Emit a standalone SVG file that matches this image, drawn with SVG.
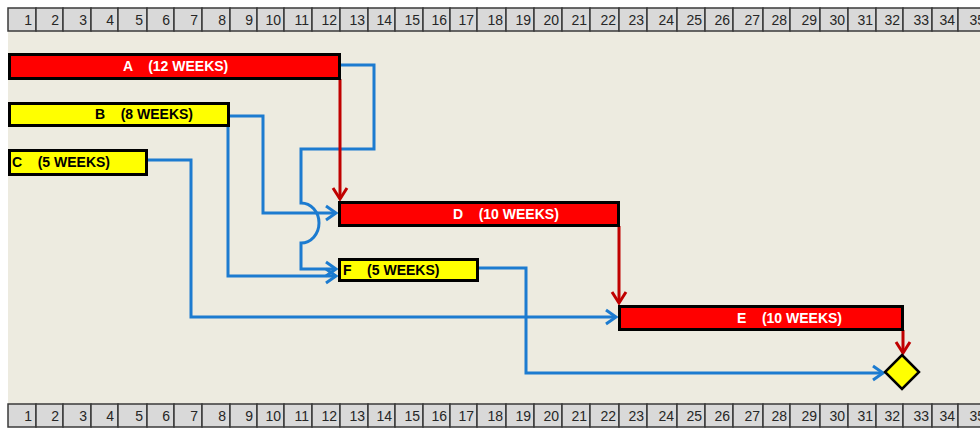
<svg xmlns="http://www.w3.org/2000/svg" width="980" height="430" viewBox="0 0 980 430">
<defs>
<style>
.cell{fill:#D9D9D9;stroke:#3A3A3A;stroke-width:1.5}
.num{font-family:"Liberation Sans",Arial,sans-serif;font-size:14px;fill:#262626;text-anchor:end}
.bar{stroke:#000;stroke-width:3}
.red{fill:#FF0000}
.yel{fill:#FFFF00}
.lbl{font-family:"Liberation Sans",Arial,sans-serif;font-size:14px;font-weight:bold}
.w{fill:#FFFFFF}
.k{fill:#000000}
.blue{fill:none;stroke:#1C7BD0;stroke-width:3;stroke-linejoin:miter}
.crit{fill:none;stroke:#C00000;stroke-width:3}
</style>
<marker id="ab" markerUnits="userSpaceOnUse" markerWidth="20" markerHeight="20" viewBox="-14 -10 16 20" refX="0" refY="0" orient="auto">
<path d="M-10,-7 L0,0 L-10,7" fill="none" stroke="#1C7BD0" stroke-width="3"/>
</marker>
<marker id="ar" markerUnits="userSpaceOnUse" markerWidth="20" markerHeight="20" viewBox="-14 -10 16 20" refX="0" refY="0" orient="auto">
<path d="M-11,-7 L0,0 L-11,7" fill="none" stroke="#C00000" stroke-width="3"/>
</marker>
</defs>
<rect x="0" y="0" width="980" height="430" fill="#FFFFFF"/>
<rect x="8" y="31" width="972" height="373" fill="#EDEBE0"/>

<g id="header-top">
<rect class="cell" x="8" y="8" width="28" height="23"/><text class="num" x="32" y="25">1</text>
<rect class="cell" x="36" y="8" width="27" height="23"/><text class="num" x="59" y="25">2</text>
<rect class="cell" x="63" y="8" width="28" height="23"/><text class="num" x="87" y="25">3</text>
<rect class="cell" x="91" y="8" width="27" height="23"/><text class="num" x="114" y="25">4</text>
<rect class="cell" x="118" y="8" width="29" height="23"/><text class="num" x="143" y="25">5</text>
<rect class="cell" x="147" y="8" width="27" height="23"/><text class="num" x="170" y="25">6</text>
<rect class="cell" x="174" y="8" width="28" height="23"/><text class="num" x="198" y="25">7</text>
<rect class="cell" x="202" y="8" width="28" height="23"/><text class="num" x="226" y="25">8</text>
<rect class="cell" x="230" y="8" width="27" height="23"/><text class="num" x="253" y="25">9</text>
<rect class="cell" x="257" y="8" width="27" height="23"/><text class="num" x="281" y="25">10</text>
<rect class="cell" x="284" y="8" width="28" height="23"/><text class="num" x="309" y="25">11</text>
<rect class="cell" x="312" y="8" width="28" height="23"/><text class="num" x="337" y="25">12</text>
<rect class="cell" x="340" y="8" width="28" height="23"/><text class="num" x="365" y="25">13</text>
<rect class="cell" x="368" y="8" width="27" height="23"/><text class="num" x="392" y="25">14</text>
<rect class="cell" x="395" y="8" width="28" height="23"/><text class="num" x="420" y="25">15</text>
<rect class="cell" x="423" y="8" width="27" height="23"/><text class="num" x="447" y="25">16</text>
<rect class="cell" x="450" y="8" width="27" height="23"/><text class="num" x="474" y="25">17</text>
<rect class="cell" x="477" y="8" width="29" height="23"/><text class="num" x="503" y="25">18</text>
<rect class="cell" x="506" y="8" width="28" height="23"/><text class="num" x="531" y="25">19</text>
<rect class="cell" x="534" y="8" width="28" height="23"/><text class="num" x="559" y="25">20</text>
<rect class="cell" x="562" y="8" width="28" height="23"/><text class="num" x="587" y="25">21</text>
<rect class="cell" x="590" y="8" width="29" height="23"/><text class="num" x="616" y="25">22</text>
<rect class="cell" x="619" y="8" width="28" height="23"/><text class="num" x="644" y="25">23</text>
<rect class="cell" x="647" y="8" width="30" height="23"/><text class="num" x="674" y="25">24</text>
<rect class="cell" x="677" y="8" width="28" height="23"/><text class="num" x="702" y="25">25</text>
<rect class="cell" x="705" y="8" width="28" height="23"/><text class="num" x="730" y="25">26</text>
<rect class="cell" x="733" y="8" width="30" height="23"/><text class="num" x="760" y="25">27</text>
<rect class="cell" x="763" y="8" width="27" height="23"/><text class="num" x="787" y="25">28</text>
<rect class="cell" x="790" y="8" width="30" height="23"/><text class="num" x="817" y="25">29</text>
<rect class="cell" x="820" y="8" width="28" height="23"/><text class="num" x="845" y="25">30</text>
<rect class="cell" x="848" y="8" width="28" height="23"/><text class="num" x="873" y="25">31</text>
<rect class="cell" x="876" y="8" width="27" height="23"/><text class="num" x="900" y="25">32</text>
<rect class="cell" x="903" y="8" width="29" height="23"/><text class="num" x="929" y="25">33</text>
<rect class="cell" x="932" y="8" width="26" height="23"/><text class="num" x="955" y="25">34</text>
<rect class="cell" x="958" y="8" width="30" height="23"/><text class="num" x="985" y="25">35</text>
</g>

<g id="header-bottom">
<rect class="cell" x="8" y="404" width="28" height="23"/><text class="num" x="32" y="421">1</text>
<rect class="cell" x="36" y="404" width="27" height="23"/><text class="num" x="59" y="421">2</text>
<rect class="cell" x="63" y="404" width="28" height="23"/><text class="num" x="87" y="421">3</text>
<rect class="cell" x="91" y="404" width="27" height="23"/><text class="num" x="114" y="421">4</text>
<rect class="cell" x="118" y="404" width="29" height="23"/><text class="num" x="143" y="421">5</text>
<rect class="cell" x="147" y="404" width="27" height="23"/><text class="num" x="170" y="421">6</text>
<rect class="cell" x="174" y="404" width="28" height="23"/><text class="num" x="198" y="421">7</text>
<rect class="cell" x="202" y="404" width="28" height="23"/><text class="num" x="226" y="421">8</text>
<rect class="cell" x="230" y="404" width="27" height="23"/><text class="num" x="253" y="421">9</text>
<rect class="cell" x="257" y="404" width="27" height="23"/><text class="num" x="281" y="421">10</text>
<rect class="cell" x="284" y="404" width="28" height="23"/><text class="num" x="309" y="421">11</text>
<rect class="cell" x="312" y="404" width="28" height="23"/><text class="num" x="337" y="421">12</text>
<rect class="cell" x="340" y="404" width="28" height="23"/><text class="num" x="365" y="421">13</text>
<rect class="cell" x="368" y="404" width="27" height="23"/><text class="num" x="392" y="421">14</text>
<rect class="cell" x="395" y="404" width="28" height="23"/><text class="num" x="420" y="421">15</text>
<rect class="cell" x="423" y="404" width="27" height="23"/><text class="num" x="447" y="421">16</text>
<rect class="cell" x="450" y="404" width="27" height="23"/><text class="num" x="474" y="421">17</text>
<rect class="cell" x="477" y="404" width="29" height="23"/><text class="num" x="503" y="421">18</text>
<rect class="cell" x="506" y="404" width="28" height="23"/><text class="num" x="531" y="421">19</text>
<rect class="cell" x="534" y="404" width="28" height="23"/><text class="num" x="559" y="421">20</text>
<rect class="cell" x="562" y="404" width="28" height="23"/><text class="num" x="587" y="421">21</text>
<rect class="cell" x="590" y="404" width="29" height="23"/><text class="num" x="616" y="421">22</text>
<rect class="cell" x="619" y="404" width="28" height="23"/><text class="num" x="644" y="421">23</text>
<rect class="cell" x="647" y="404" width="30" height="23"/><text class="num" x="674" y="421">24</text>
<rect class="cell" x="677" y="404" width="28" height="23"/><text class="num" x="702" y="421">25</text>
<rect class="cell" x="705" y="404" width="28" height="23"/><text class="num" x="730" y="421">26</text>
<rect class="cell" x="733" y="404" width="30" height="23"/><text class="num" x="760" y="421">27</text>
<rect class="cell" x="763" y="404" width="27" height="23"/><text class="num" x="787" y="421">28</text>
<rect class="cell" x="790" y="404" width="30" height="23"/><text class="num" x="817" y="421">29</text>
<rect class="cell" x="820" y="404" width="28" height="23"/><text class="num" x="845" y="421">30</text>
<rect class="cell" x="848" y="404" width="28" height="23"/><text class="num" x="873" y="421">31</text>
<rect class="cell" x="876" y="404" width="27" height="23"/><text class="num" x="900" y="421">32</text>
<rect class="cell" x="903" y="404" width="29" height="23"/><text class="num" x="929" y="421">33</text>
<rect class="cell" x="932" y="404" width="26" height="23"/><text class="num" x="955" y="421">34</text>
<rect class="cell" x="958" y="404" width="30" height="23"/><text class="num" x="985" y="421">35</text>
</g>

<g id="connectors">
<path class="blue" d="M340,65 H374 V149 H301 V203 A18,20 0 0 1 301,243 V269 H336" marker-end="url(#ab)"/>
<path class="blue" d="M229,116 H263 V213 H336" marker-end="url(#ab)"/>
<path class="blue" d="M228,116 V276 H336" marker-end="url(#ab)"/>
<path class="blue" d="M147,160 H191 V317 H616" marker-end="url(#ab)"/>
<path class="blue" d="M478,268 H526 V373 H883" marker-end="url(#ab)"/>
<path class="crit" d="M340,79 V199" marker-end="url(#ar)"/>
<path class="crit" d="M619,226 V303" marker-end="url(#ar)"/>
<path class="crit" d="M903,330 V353" marker-end="url(#ar)"/>
</g>

<g id="task-A">
<rect class="bar red" x="9.5" y="54.5" width="330" height="24"/>
<text class="lbl w" x="123" y="71" xml:space="preserve">A    (12 WEEKS)</text>
</g>
<g id="task-B">
<rect class="bar yel" x="9.5" y="103.5" width="219" height="22"/>
<text class="lbl k" x="95" y="119" xml:space="preserve">B    (8 WEEKS)</text>
</g>
<g id="task-C">
<rect class="bar yel" x="9.5" y="150.5" width="137" height="24"/>
<text class="lbl k" x="12" y="167" xml:space="preserve">C    (5 WEEKS)</text>
</g>
<g id="task-D">
<rect class="bar red" x="339.5" y="202.5" width="279" height="23"/>
<text class="lbl w" x="453" y="219" xml:space="preserve">D    (10 WEEKS)</text>
</g>
<g id="task-F">
<rect class="bar yel" x="339.5" y="259.5" width="138" height="21"/>
<text class="lbl k" x="343" y="275" xml:space="preserve">F    (5 WEEKS)</text>
</g>
<g id="task-E">
<rect class="bar red" x="619.5" y="306.5" width="283" height="23"/>
<text class="lbl w" x="737" y="323" xml:space="preserve">E    (10 WEEKS)</text>
</g>
<g id="finish">
<polygon points="902,355 919,372 902,389 885,372" fill="#FFFF00" stroke="#000" stroke-width="2.5" stroke-linejoin="miter"/>
</g>
</svg>
